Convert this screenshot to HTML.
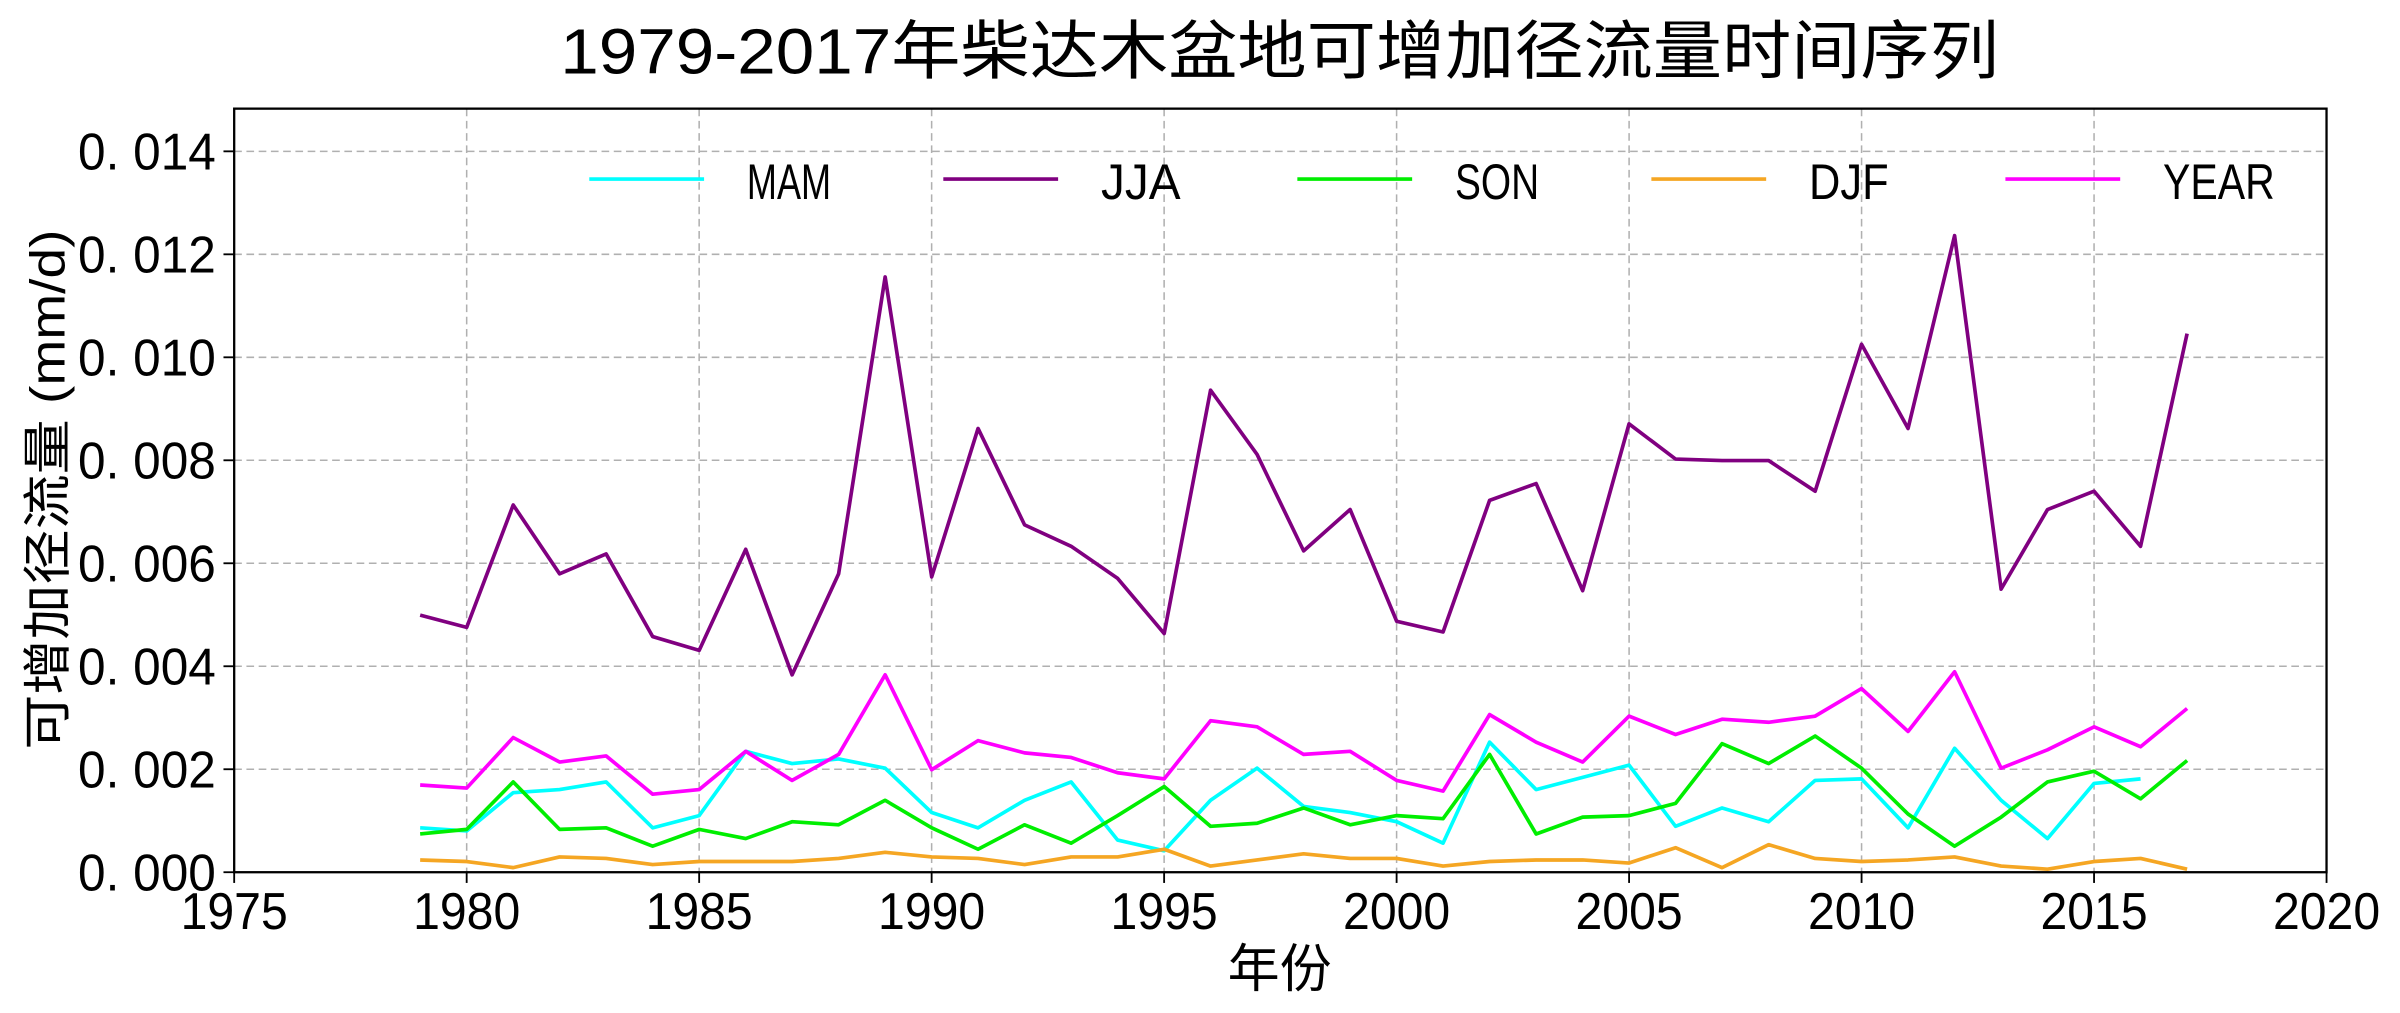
<!DOCTYPE html>
<html><head><meta charset="utf-8"><style>
html,body{margin:0;padding:0;background:#fff;}
svg{display:block;}
text{font-family:"Liberation Sans","Noto Sans CJK SC",sans-serif;fill:#000;}
</style></head><body>
<svg id="s" width="2400" height="1013" viewBox="0 0 1568 662" preserveAspectRatio="none" xmlns="http://www.w3.org/2000/svg">
<text x="836" y="48" font-size="42" text-anchor="middle" font-family="Noto Sans CJK SC, sans-serif" textLength="940" lengthAdjust="spacingAndGlyphs">1979-2017年柴达木盆地可增加径流量时间序列</text>
<g id="grid" stroke="#b0b0b0" stroke-width="1" stroke-dasharray="5,3"></g>
<g id="series" fill="none" stroke-width="2.4" stroke-linejoin="round"></g>
<rect x="153" y="71" width="1367" height="499" fill="none" stroke="#000" stroke-width="1.5"/>
<g id="ticks"></g>
<text x="836" y="645" font-size="34" text-anchor="middle" font-family="Noto Sans CJK SC, sans-serif">年份</text>
<text transform="translate(42,320) rotate(-90)" font-size="32" text-anchor="middle" font-family="Noto Sans CJK SC, sans-serif" textLength="340" lengthAdjust="spacingAndGlyphs">可增加径流量 (mm/d)</text>
<g id="legend"></g>
</svg>
<script>
var ns="http://www.w3.org/2000/svg";
function el(p,t,a,txt){var e=document.createElementNS(ns,t);for(var k in a)e.setAttribute(k,a[k]);if(txt!=null)e.textContent=txt;document.getElementById(p).appendChild(e);return e;}
function X(y){return 153+(y-1975)*30.378;}
for(var y=1980;y<=2015;y+=5)el("grid","line",{x1:X(y),x2:X(y),y1:71,y2:570});
for(var i=1;i<=7;i++){var yy=570-i*67.3;el("grid","line",{x1:153,x2:1520,y1:yy,y2:yy});}
for(var y=1975;y<=2020;y+=5){el("ticks","line",{x1:X(y),x2:X(y),y1:570,y2:577,stroke:"#000","stroke-width":1.2});
el("ticks","text",{x:X(y),y:607,"font-size":34,"text-anchor":"middle",textLength:70,lengthAdjust:"spacingAndGlyphs"},String(y));}
for(var i=0;i<=7;i++){var yy=570-i*67.3;el("ticks","line",{x1:146,x2:153,y1:yy,y2:yy,stroke:"#000","stroke-width":1.2});
el("ticks","text",{x:141,y:yy+12,"font-size":34,"text-anchor":"end",textLength:90,lengthAdjust:"spacingAndGlyphs"},"0. 0"+(i*2<10?"0":"")+(i*2));}
var D={
JJA:["#800080",[402,410,330,375,362,416,425,359,441,375,181,377,280,343,357,378,414,255,297,360,333,406,413,327,316,386,277,300,301,301,321,225,280,154,385,333,321,357,218]],
YEAR:["#ff00ff",[513,515,482,498,494,519,516,491,510,493,441,503,484,492,495,505,509,471,475,493,491,510,517,467,485,498,468,480,470,472,468,450,478,439,502,490,475,488,463]],
MAM:["#00ffff",[541,543,518,516,511,541,533,491,499,496,502,531,541,523,511,549,556,523,502,527,531,537,551,485,516,508,500,540,528,537,510,509,541,489,523,548,512,509]],
SON:["#00ee00",[545,542,511,542,541,553,542,548,537,539,523,541,555,539,551,533,514,540,538,528,539,533,535,493,545,534,533,525,486,499,481,502,532,553,534,511,504,522,497]],
DJF:["#f5a623",[562,563,567,560,561,565,563,563,563,561,557,560,561,565,560,560,555,566,562,558,561,561,566,563,562,562,564,554,567,552,561,563,562,560,566,568,563,561,568]]};
["MAM","JJA","SON","DJF","YEAR"].forEach(function(k){var c=D[k][0],v=D[k][1],p=[];v.forEach(function(y,i){p.push(X(1979+i).toFixed(1)+","+y);});
el("series","polyline",{points:p.join(" "),stroke:c});});
var LW={MAM:55,JJA:52,SON:55,DJF:52,YEAR:73};
["MAM","JJA","SON","DJF","YEAR"].forEach(function(k,i){var x0=385+i*231.3;
el("legend","line",{x1:x0,x2:x0+75,y1:117,y2:117,stroke:D[k][0],"stroke-width":2.4});
el("legend","text",{x:x0+103,y:130,"font-size":33,textLength:LW[k],lengthAdjust:"spacingAndGlyphs"},k);});
</script>
</body></html>
